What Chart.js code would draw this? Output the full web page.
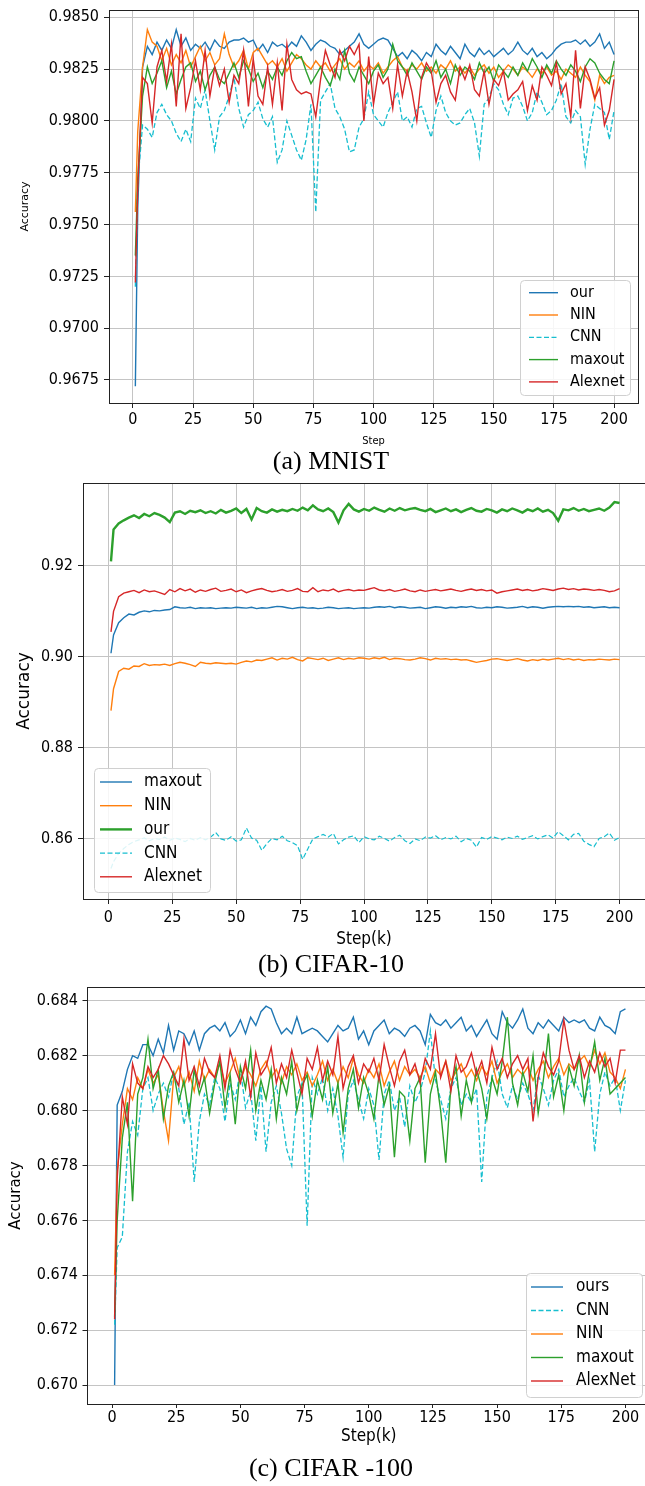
<!DOCTYPE html>
<html>
<head>
<meta charset="utf-8">
<script src="https://cdn.jsdelivr.net/npm/chart.js@4.4.1/dist/chart.umd.min.js"></script>
<style>
  html, body { margin: 0; padding: 0; background: #fff; overflow: hidden; }
  body { position: relative; width: 645px; height: 1486px; }
  .panel { position: absolute; left: 0; }
  .caption { position: absolute; left: 131px; width: 400px; text-align: center;
             font-family: 'Liberation Serif', 'Times New Roman', serif; font-size: 26px; line-height: 26px; color: #000; }
</style>
</head>
<body>
<div class="panel" style="top:0px;width:645px;height:450px"><canvas id="mnist"></canvas></div>
<div class="caption" style="top:448px">(a) MNIST</div>
<div class="panel" style="top:470px;width:646px;height:482px"><canvas id="cifar10"></canvas></div>
<div class="caption" style="top:951px">(b) CIFAR-10</div>
<div class="panel" style="top:975px;width:652px;height:480px"><canvas id="cifar100"></canvas></div>
<div class="caption" style="top:1455px">(c) CIFAR -100</div>
<script>
// steps (k) at which accuracy was logged
const steps = [1];
for (let s = 2; s <= 200; s += 2) steps.push(s);
const xTicks = [0, 25, 50, 75, 100, 125, 150, 175, 200];

// ---- (a) MNIST ----
const mnistYTicks = [0.9675, 0.9700, 0.9725, 0.9750, 0.9775, 0.9800, 0.9825, 0.9850];
const mnistOur = [
  0.9672, 0.9758, 0.9826, 0.9836, 0.9832, 0.9838, 0.9834, 0.9839, 0.9835, 0.9844,
  0.9836, 0.9840, 0.9834, 0.9837, 0.9835, 0.9838, 0.9834, 0.9839, 0.9836, 0.9835,
  0.9838, 0.9839, 0.9839, 0.9840, 0.9838, 0.9839, 0.9834, 0.9837, 0.9833, 0.9838,
  0.9836, 0.9837, 0.9835, 0.9838, 0.9836, 0.9841, 0.9838, 0.9834, 0.9837, 0.9839,
  0.9838, 0.9836, 0.9835, 0.9832, 0.9834, 0.9836, 0.9838, 0.9842, 0.9837, 0.9835,
  0.9837, 0.9839, 0.9840, 0.9839, 0.9835, 0.9831, 0.9833, 0.9830, 0.9834, 0.9832,
  0.9829, 0.9833, 0.9831, 0.9837, 0.9834, 0.9832, 0.9836, 0.9833, 0.9830, 0.9837,
  0.9833, 0.9831, 0.9835, 0.9832, 0.9834, 0.9831, 0.9833, 0.9835, 0.9832, 0.9834,
  0.9838, 0.9834, 0.9832, 0.9835, 0.9831, 0.9833, 0.9830, 0.9832, 0.9835, 0.9837,
  0.9838, 0.9838, 0.9839, 0.9837, 0.9839, 0.9836, 0.9838, 0.9842, 0.9835, 0.9838,
  0.9832];
const mnistNIN = [
  0.9756, 0.9795, 0.9826, 0.9844, 0.9838, 0.9836, 0.9829, 0.9835, 0.9827, 0.9832,
  0.9828, 0.9834, 0.9826, 0.9831, 0.9836, 0.9829, 0.9833, 0.9827, 0.9830, 0.9842,
  0.9832, 0.9826, 0.9829, 0.9834, 0.9825, 0.9833, 0.9835, 0.9831, 0.9827, 0.9829,
  0.9826, 0.9830, 0.9824, 0.9828, 0.9832, 0.9830, 0.9827, 0.9825, 0.9829, 0.9826,
  0.9828, 0.9824, 0.9827, 0.9830, 0.9825, 0.9828, 0.9826, 0.9829, 0.9824, 0.9827,
  0.9825, 0.9828, 0.9823, 0.9826, 0.9829, 0.9831, 0.9826, 0.9824, 0.9827, 0.9825,
  0.9828, 0.9824, 0.9826, 0.9823, 0.9827, 0.9825, 0.9829, 0.9824, 0.9826, 0.9823,
  0.9826, 0.9822, 0.9825, 0.9827, 0.9823, 0.9826, 0.9821, 0.9824, 0.9827, 0.9825,
  0.9822, 0.9826, 0.9824, 0.9821, 0.9825, 0.9823, 0.9826, 0.9822, 0.9824, 0.9820,
  0.9825, 0.9823, 0.9821, 0.9826, 0.9822, 0.9819, 0.9810, 0.9822, 0.9818, 0.9821,
  0.9822];
const mnistCNN = [
  0.9720, 0.9770, 0.9798, 0.9796, 0.9792, 0.9804, 0.9808, 0.9803, 0.9800, 0.9794,
  0.9790, 0.9796, 0.9790, 0.9811, 0.9806, 0.9815, 0.9800, 0.9786, 0.9802, 0.9805,
  0.9812, 0.9821, 0.9806, 0.9797, 0.9803, 0.9805, 0.9809, 0.9801, 0.9797, 0.9802,
  0.9780, 0.9786, 0.9800, 0.9793, 0.9786, 0.9781, 0.9791, 0.9808, 0.9756, 0.9810,
  0.9814, 0.9818, 0.9806, 0.9802, 0.9796, 0.9785, 0.9786, 0.9797, 0.9801, 0.9814,
  0.9803, 0.9800, 0.9797, 0.9804, 0.9809, 0.9814, 0.9800, 0.9802, 0.9797, 0.9806,
  0.9807, 0.9799, 0.9792, 0.9805, 0.9812, 0.9804, 0.9800, 0.9798, 0.9799, 0.9803,
  0.9806, 0.9799, 0.9783, 0.9808, 0.9811, 0.9818, 0.9815, 0.9808, 0.9803, 0.9811,
  0.9812, 0.9807, 0.9800, 0.9804, 0.9814, 0.9809, 0.9803, 0.9805, 0.9810, 0.9818,
  0.9802, 0.9799, 0.9805, 0.9802, 0.9779, 0.9796, 0.9808, 0.9806, 0.9804, 0.9791,
  0.9805];
const mnistMaxout = [
  0.9735, 0.9772, 0.9812, 0.9826, 0.9818, 0.9823, 0.9829, 0.9816, 0.9824, 0.9813,
  0.9820, 0.9826, 0.9828, 0.9819, 0.9824, 0.9815, 0.9822, 0.9826, 0.9820, 0.9818,
  0.9823, 0.9828, 0.9821, 0.9829, 0.9825, 0.9819, 0.9823, 0.9816, 0.9824, 0.9820,
  0.9826, 0.9822, 0.9829, 0.9833, 0.9830, 0.9831, 0.9824, 0.9818, 0.9822, 0.9826,
  0.9821, 0.9817, 0.9825, 0.9820, 0.9834, 0.9823, 0.9819, 0.9826, 0.9822, 0.9818,
  0.9824, 0.9827, 0.9821, 0.9825, 0.9837, 0.9829, 0.9826, 0.9822, 0.9828, 0.9824,
  0.9820, 0.9826, 0.9823, 0.9829, 0.9821, 0.9825, 0.9818, 0.9827, 0.9822, 0.9826,
  0.9824, 0.9820, 0.9828, 0.9823, 0.9826, 0.9819, 0.9827, 0.9824, 0.9821, 0.9826,
  0.9822, 0.9828, 0.9824, 0.9830, 0.9826, 0.9821, 0.9827, 0.9823, 0.9829, 0.9825,
  0.9822, 0.9827, 0.9824, 0.9819, 0.9826, 0.9830, 0.9828, 0.9823, 0.9820, 0.9818,
  0.9829];
const mnistAlexnet = [
  0.9722, 0.9768, 0.9821, 0.9818, 0.9799, 0.9826, 0.9834, 0.9819, 0.9837, 0.9807,
  0.9842, 0.9806, 0.9816, 0.9829, 0.9815, 0.9834, 0.9812, 0.9826, 0.9817, 0.9825,
  0.9809, 0.9822, 0.9818, 0.9834, 0.9807, 0.9830, 0.9812, 0.9808, 0.9826, 0.9808,
  0.9828, 0.9805, 0.9837, 0.9820, 0.9815, 0.9813, 0.9814, 0.9813, 0.9802, 0.9820,
  0.9834, 0.9827, 0.9821, 0.9834, 0.9829, 0.9836, 0.9832, 0.9837, 0.9800, 0.9831,
  0.9808, 0.9823, 0.9818, 0.9821, 0.9806, 0.9827, 0.9812, 0.9824, 0.9814, 0.9800,
  0.9821, 0.9828, 0.9824, 0.9809, 0.9818, 0.9822, 0.9814, 0.9810, 0.9826, 0.9820,
  0.9827, 0.9815, 0.9812, 0.9824, 0.9808, 0.9820, 0.9817, 0.9824, 0.9810, 0.9813,
  0.9815, 0.9819, 0.9805, 0.9817, 0.9810, 0.9826, 0.9822, 0.9817, 0.9828, 0.9813,
  0.9818, 0.9802, 0.9834, 0.9806, 0.9826, 0.9820, 0.9811, 0.9816, 0.9798, 0.9805,
  0.9820];

// ---- (b) CIFAR-10 ----
const c10YTicks = [0.86, 0.88, 0.90, 0.92];
const c10Maxout = [
  0.9008, 0.9048, 0.9075, 0.9086, 0.9094, 0.9092, 0.9098, 0.9101, 0.9099, 0.9102,
  0.9101, 0.9103, 0.9104, 0.9110, 0.9108, 0.9107, 0.9109, 0.9106, 0.9108, 0.9107,
  0.9108, 0.9106, 0.9107, 0.9108, 0.9107, 0.9109, 0.9108, 0.9107, 0.9109, 0.9106,
  0.9108, 0.9107, 0.9109, 0.9111, 0.9110, 0.9108, 0.9106, 0.9108, 0.9109, 0.9107,
  0.9108, 0.9106, 0.9107, 0.9109, 0.9108, 0.9106, 0.9107, 0.9108, 0.9106, 0.9107,
  0.9108, 0.9107, 0.9109, 0.9110, 0.9109, 0.9111, 0.9108, 0.9110, 0.9109, 0.9107,
  0.9108, 0.9109, 0.9106, 0.9108, 0.9110, 0.9109, 0.9107, 0.9109, 0.9108, 0.9110,
  0.9109, 0.9111, 0.9108, 0.9107, 0.9109, 0.9108, 0.9110, 0.9109, 0.9107, 0.9108,
  0.9109, 0.9111, 0.9108, 0.9110, 0.9109, 0.9107, 0.9109, 0.9110, 0.9111, 0.9110,
  0.9111, 0.9110, 0.9111, 0.9109, 0.9110, 0.9108, 0.9109, 0.9110, 0.9108, 0.9109,
  0.9108];
const c10NIN = [
  0.8882, 0.8930, 0.8968, 0.8975, 0.8973, 0.8980, 0.8979, 0.8985, 0.8981, 0.8983,
  0.8982, 0.8984, 0.8981, 0.8985, 0.8988, 0.8986, 0.8983, 0.8979, 0.8988, 0.8986,
  0.8985, 0.8987, 0.8986, 0.8985, 0.8986, 0.8984, 0.8988, 0.8991, 0.8989, 0.8993,
  0.8992, 0.8995, 0.8998, 0.8993, 0.8997, 0.8995, 0.8999, 0.8994, 0.8991, 0.8998,
  0.8996, 0.8994, 0.8997, 0.8992, 0.8995, 0.8998, 0.8994, 0.8997, 0.8995, 0.8998,
  0.8997, 0.8995, 0.8998, 0.8996, 0.8999, 0.8994, 0.8997, 0.8996, 0.8994, 0.8993,
  0.8995, 0.8998, 0.8996, 0.8993, 0.8997, 0.8995, 0.8996, 0.8994, 0.8995, 0.8993,
  0.8994, 0.8991, 0.8988, 0.8990, 0.8992, 0.8995, 0.8996, 0.8994, 0.8992, 0.8994,
  0.8996, 0.8993, 0.8991, 0.8994, 0.8992, 0.8995, 0.8993, 0.8995, 0.8997, 0.8994,
  0.8996, 0.8993, 0.8995, 0.8992, 0.8994, 0.8993, 0.8995, 0.8994, 0.8993, 0.8995,
  0.8994];
const c10Our = [
  0.9210, 0.9280, 0.9293, 0.9300, 0.9306, 0.9311, 0.9305, 0.9314, 0.9309, 0.9316,
  0.9312, 0.9306, 0.9296, 0.9317, 0.9320, 0.9314, 0.9321, 0.9318, 0.9322, 0.9316,
  0.9320, 0.9315, 0.9323, 0.9317, 0.9321, 0.9326, 0.9316, 0.9325, 0.9302, 0.9327,
  0.9320, 0.9317, 0.9324, 0.9319, 0.9323, 0.9320, 0.9325, 0.9321, 0.9328, 0.9322,
  0.9333, 0.9324, 0.9320, 0.9326, 0.9318, 0.9295, 0.9322, 0.9336, 0.9324, 0.9319,
  0.9325, 0.9321, 0.9328, 0.9323, 0.9319, 0.9326, 0.9321, 0.9327, 0.9322, 0.9325,
  0.9327, 0.9323, 0.9320, 0.9325, 0.9318, 0.9322, 0.9326, 0.9320, 0.9324, 0.9318,
  0.9323, 0.9327, 0.9321, 0.9319, 0.9325, 0.9322, 0.9317, 0.9324, 0.9320, 0.9326,
  0.9322, 0.9317, 0.9324, 0.9320, 0.9326, 0.9319, 0.9323, 0.9316, 0.9299, 0.9324,
  0.9322, 0.9327, 0.9321, 0.9325, 0.9320, 0.9323, 0.9326, 0.9321, 0.9328, 0.9340,
  0.9338];
const c10CNN = [
  0.8535, 0.8550, 0.8568, 0.8579, 0.8588, 0.8594, 0.8598, 0.8602, 0.8596, 0.8601,
  0.8599, 0.8604, 0.8597, 0.8602, 0.8599, 0.8594, 0.8601, 0.8597, 0.8603, 0.8598,
  0.8604, 0.8614, 0.8600, 0.8597, 0.8605, 0.8595, 0.8598, 0.8624, 0.8602, 0.8597,
  0.8575, 0.8590, 0.8601, 0.8598, 0.8606, 0.8596, 0.8592, 0.8585, 0.8555, 0.8578,
  0.8600, 0.8605, 0.8610, 0.8604, 0.8612, 0.8589, 0.8598, 0.8604, 0.8607, 0.8592,
  0.8605, 0.8600, 0.8598, 0.8606, 0.8601, 0.8595, 0.8603, 0.8608, 0.8596, 0.8590,
  0.8600, 0.8596, 0.8604, 0.8602, 0.8607, 0.8598, 0.8603, 0.8600, 0.8606, 0.8594,
  0.8601, 0.8597, 0.8582, 0.8603, 0.8599, 0.8605, 0.8602, 0.8598, 0.8604, 0.8601,
  0.8606, 0.8599, 0.8603, 0.8607, 0.8600, 0.8605, 0.8609, 0.8602, 0.8616, 0.8607,
  0.8598, 0.8610, 0.8612, 0.8595, 0.8588, 0.8583, 0.8601, 0.8605, 0.8613, 0.8597,
  0.8603];
const c10Alexnet = [
  0.9055, 0.9100, 0.9132, 0.9140, 0.9143, 0.9146, 0.9141, 0.9147, 0.9143, 0.9145,
  0.9141, 0.9137, 0.9148, 0.9143, 0.9150, 0.9145, 0.9149, 0.9142, 0.9147, 0.9144,
  0.9148, 0.9151, 0.9144, 0.9146, 0.9149, 0.9143, 0.9147, 0.9141, 0.9145, 0.9148,
  0.9150, 0.9146, 0.9143, 0.9145, 0.9148, 0.9144, 0.9146, 0.9150, 0.9144, 0.9143,
  0.9152, 0.9143, 0.9147, 0.9145, 0.9149, 0.9143, 0.9146, 0.9148, 0.9145, 0.9147,
  0.9146, 0.9149, 0.9152, 0.9147, 0.9145, 0.9148, 0.9144, 0.9146, 0.9149, 0.9145,
  0.9143, 0.9147, 0.9144, 0.9146, 0.9148, 0.9145, 0.9147, 0.9149, 0.9146, 0.9144,
  0.9147, 0.9149, 0.9146, 0.9148, 0.9145, 0.9147, 0.9140, 0.9143, 0.9145, 0.9147,
  0.9149, 0.9146, 0.9148, 0.9145, 0.9147, 0.9150, 0.9148, 0.9146, 0.9149, 0.9151,
  0.9148, 0.9150, 0.9147, 0.9149, 0.9148, 0.9146, 0.9148, 0.9146, 0.9143, 0.9145,
  0.9150];

// ---- (c) CIFAR-100 ----
const c100YTicks = [0.670, 0.672, 0.674, 0.676, 0.678, 0.680, 0.682, 0.684];
const c100Ours = [
  0.6700, 0.6802, 0.6807, 0.6815, 0.6820, 0.6819, 0.6824, 0.6824, 0.6820, 0.6826,
  0.6821, 0.6831, 0.6822, 0.6829, 0.6828, 0.6824, 0.6829, 0.6822, 0.6828, 0.6830,
  0.6831, 0.6829, 0.6832, 0.6827, 0.6829, 0.6833, 0.6828, 0.6834, 0.6831, 0.6836,
  0.6838, 0.6837, 0.6832, 0.6828, 0.6830, 0.6828, 0.6834, 0.6828, 0.6829, 0.6830,
  0.6829, 0.6827, 0.6825, 0.6828, 0.6831, 0.6829, 0.6830, 0.6834, 0.6826, 0.6829,
  0.6824, 0.6829, 0.6831, 0.6833, 0.6828, 0.6830, 0.6829, 0.6827, 0.6830, 0.6831,
  0.6829, 0.6824, 0.6835, 0.6832, 0.6831, 0.6833, 0.6830, 0.6832, 0.6834, 0.6829,
  0.6831, 0.6827, 0.6830, 0.6833, 0.6828, 0.6826, 0.6836, 0.6832, 0.6830, 0.6833,
  0.6837, 0.6830, 0.6828, 0.6832, 0.6830, 0.6833, 0.6831, 0.6829, 0.6834, 0.6832,
  0.6833, 0.6832, 0.6833, 0.6830, 0.6829, 0.6834, 0.6831, 0.6830, 0.6828, 0.6836,
  0.6837];
const c100CNN = [
  0.6722, 0.6750, 0.6754, 0.6785, 0.6796, 0.6791, 0.6808, 0.6812, 0.6800, 0.6806,
  0.6810, 0.6805, 0.6814, 0.6808, 0.6795, 0.6803, 0.6774, 0.6796, 0.6806, 0.6802,
  0.6812, 0.6808, 0.6796, 0.6810, 0.6804, 0.6815, 0.6801, 0.6807, 0.6789, 0.6809,
  0.6785, 0.6803, 0.6809, 0.6799, 0.6786, 0.6780, 0.6805, 0.6810, 0.6758, 0.6812,
  0.6806, 0.6812, 0.6800, 0.6808, 0.6798, 0.6783, 0.6806, 0.6811, 0.6804, 0.6797,
  0.6808, 0.6802, 0.6782, 0.6806, 0.6811, 0.6800, 0.6805, 0.6794, 0.6809, 0.6803,
  0.6807, 0.6814, 0.6829, 0.6811, 0.6804, 0.6797, 0.6808, 0.6812, 0.6802, 0.6806,
  0.6803, 0.6808, 0.6774, 0.6805, 0.6812, 0.6818, 0.6806, 0.6801, 0.6809, 0.6804,
  0.6810, 0.6806, 0.6800, 0.6813, 0.6808, 0.6802, 0.6811, 0.6815, 0.6805, 0.6809,
  0.6812, 0.6807, 0.6803, 0.6811, 0.6785, 0.6806, 0.6814, 0.6809, 0.6812, 0.6800,
  0.6811];
const c100NIN = [
  0.6740, 0.6778, 0.6795, 0.6808, 0.6804, 0.6812, 0.6808, 0.6815, 0.6810, 0.6813,
  0.6800, 0.6789, 0.6812, 0.6816, 0.6809, 0.6814, 0.6807, 0.6818, 0.6811, 0.6815,
  0.6812, 0.6817, 0.6810, 0.6814, 0.6819, 0.6811, 0.6816, 0.6813, 0.6809, 0.6815,
  0.6818, 0.6812, 0.6815, 0.6810, 0.6816, 0.6813, 0.6817, 0.6811, 0.6814, 0.6809,
  0.6813, 0.6818, 0.6811, 0.6815, 0.6810, 0.6816, 0.6812, 0.6819, 0.6813, 0.6810,
  0.6815, 0.6812, 0.6817, 0.6809, 0.6814, 0.6818, 0.6811, 0.6816, 0.6813, 0.6815,
  0.6812, 0.6816, 0.6810, 0.6815, 0.6813, 0.6818, 0.6811, 0.6814, 0.6817, 0.6812,
  0.6815, 0.6811, 0.6816, 0.6813, 0.6818, 0.6810, 0.6814, 0.6817, 0.6812, 0.6815,
  0.6813, 0.6816, 0.6811, 0.6815, 0.6818, 0.6812, 0.6816, 0.6819, 0.6813, 0.6817,
  0.6815, 0.6818, 0.6820, 0.6816, 0.6822, 0.6817, 0.6821, 0.6814, 0.6812, 0.6808,
  0.6815];
const c100Maxout = [
  0.6725, 0.6760, 0.6790, 0.6803, 0.6767, 0.6806, 0.6812, 0.6826, 0.6808, 0.6815,
  0.6797, 0.6809, 0.6814, 0.6803, 0.6811, 0.6798, 0.6815, 0.6806, 0.6812, 0.6799,
  0.6810, 0.6818, 0.6801, 0.6813, 0.6795, 0.6816, 0.6808, 0.6822, 0.6800, 0.6811,
  0.6804, 0.6815, 0.6797, 0.6812, 0.6806, 0.6818, 0.6800, 0.6809, 0.6813, 0.6798,
  0.6811, 0.6804, 0.6816, 0.6799, 0.6810, 0.6792, 0.6808, 0.6815, 0.6801, 0.6812,
  0.6806, 0.6797, 0.6813, 0.6802, 0.6809, 0.6783, 0.6807, 0.6805, 0.6789, 0.6808,
  0.6812, 0.6781, 0.6806, 0.6814, 0.6800, 0.6781, 0.6809, 0.6816, 0.6798, 0.6811,
  0.6803, 0.6815, 0.6808, 0.6797, 0.6812, 0.6806, 0.6818, 0.6834, 0.6810, 0.6802,
  0.6814, 0.6807, 0.6820, 0.6799, 0.6811, 0.6828, 0.6805, 0.6813, 0.6800, 0.6816,
  0.6809, 0.6820, 0.6803, 0.6815, 0.6825, 0.6811, 0.6819, 0.6806, 0.6808, 0.6810,
  0.6812];
const c100AlexNet = [
  0.6724, 0.6775, 0.6805, 0.6795, 0.6817, 0.6810, 0.6808, 0.6816, 0.6812, 0.6815,
  0.6820, 0.6817, 0.6813, 0.6809, 0.6826, 0.6811, 0.6816, 0.6809, 0.6819, 0.6814,
  0.6812, 0.6820, 0.6808, 0.6822, 0.6815, 0.6810, 0.6818, 0.6805, 0.6821, 0.6813,
  0.6816, 0.6823, 0.6810, 0.6817, 0.6812, 0.6822, 0.6814, 0.6806, 0.6819, 0.6815,
  0.6823, 0.6811, 0.6818, 0.6813, 0.6827, 0.6808, 0.6816, 0.6820, 0.6810, 0.6817,
  0.6814, 0.6819, 0.6811, 0.6824, 0.6816, 0.6809, 0.6818, 0.6822, 0.6813, 0.6817,
  0.6810, 0.6819, 0.6815, 0.6828, 0.6812, 0.6818, 0.6807, 0.6820, 0.6814, 0.6816,
  0.6821, 0.6813, 0.6818, 0.6810, 0.6823, 0.6815, 0.6819, 0.6812, 0.6817, 0.6820,
  0.6815, 0.6819, 0.6796, 0.6812, 0.6821, 0.6816, 0.6813, 0.6818, 0.6833, 0.6822,
  0.6815, 0.6820, 0.6812, 0.6818, 0.6814, 0.6821, 0.6816, 0.6819, 0.6810, 0.6822,
  0.6822];

const COND = "'DejaVu Sans Condensed', 'DejaVu Sans', sans-serif";
const PLAIN = "'DejaVu Sans', sans-serif";
Chart.defaults.font.family = COND;
Chart.defaults.color = '#000';

const BLUE = '#1f77b4', ORANGE = '#ff7f0e', GREEN = '#2ca02c', RED = '#d62728', CYAN = '#17becf';
const DASH = [5, 2.5];

// box round the plot, like matplotlib spines
const framePlugin = {
  id: 'frame',
  afterDatasetsDraw(chart) {
    const { ctx, chartArea: a } = chart;
    ctx.save();
    ctx.strokeStyle = '#222';
    ctx.lineWidth = 1;
    ctx.strokeRect(Math.round(a.left) + 0.5, Math.round(a.top) + 0.5,
                   Math.round(a.right - a.left), Math.round(a.bottom - a.top));
    ctx.restore();
  }
};

// legend box drawn inside the plot
function boxLegend(L) {
  return {
    id: 'boxLegend',
    afterDraw(chart) {
      const ctx = chart.ctx;
      ctx.save();
      ctx.beginPath();
      ctx.roundRect(L.x + 0.5, L.y + 0.5, L.w, L.h, 4);
      ctx.fillStyle = 'rgba(255,255,255,0.85)';
      ctx.fill();
      ctx.strokeStyle = '#d0d0d0';
      ctx.lineWidth = 1;
      ctx.stroke();
      ctx.font = L.size + 'px ' + COND;
      ctx.textBaseline = 'middle';
      chart.data.datasets.forEach((ds, i) => {
        const y = L.rowY + i * L.gap;
        ctx.beginPath();
        ctx.setLineDash(ds.borderDash || []);
        ctx.strokeStyle = ds.borderColor;
        ctx.lineWidth = ds.borderWidth;
        ctx.moveTo(L.lineX, y);
        ctx.lineTo(L.lineX + L.lineLen, y);
        ctx.stroke();
        ctx.setLineDash([]);
        ctx.fillStyle = '#000';
        ctx.fillText(ds.label, L.textX, y);
      });
      ctx.restore();
    }
  };
}

function makePanel(id, p) {
  const xLh = p.xTitleSize * 1.2;
  const yLh = p.yTitleSize * 1.2;
  const padLeft = p.yTitleX - yLh / 2;
  const padBottom = p.height - (p.xTitleY + xLh / 2);
  const grid = '#c4c4c4';
  return new Chart(document.getElementById(id), {
    type: 'line',
    data: {
      datasets: p.series.map((s, i) => ({
        label: s.label,
        data: steps.map((x, j) => ({ x: x, y: s.values[j] })),
        borderColor: s.color,
        borderWidth: s.width || 1.4,
        borderDash: s.dash || [],
        pointRadius: 0,
        tension: 0,
        fill: false,
        order: p.series.length - i
      }))
    },
    options: {
      responsive: true,
      maintainAspectRatio: false,
      animation: false,
      events: [],
      layout: { padding: { left: padLeft, right: p.width - p.area.right, top: p.area.top, bottom: padBottom } },
      plugins: { legend: { display: false }, tooltip: { enabled: false } },
      scales: {
        x: {
          type: 'linear', min: -9.95, max: 209.95,
          afterBuildTicks: sc => { sc.ticks = xTicks.map(v => ({ value: v })); },
          afterFit: sc => {
            sc.height = p.height - padBottom - p.area.bottom;
            sc.paddingLeft = 0; sc.paddingRight = 0;
          },
          grid: { drawOnChartArea: p.xGrid, color: grid, lineWidth: 1, tickLength: p.xTickLen, tickColor: '#222' },
          border: { display: false },
          ticks: { font: { size: p.tickSize }, padding: p.xTickPad, maxRotation: 0, autoSkip: false, callback: v => v },
          title: { display: true, text: p.xTitle, font: { size: p.xTitleSize }, padding: 0 }
        },
        y: {
          min: p.yMin, max: p.yMax,
          afterBuildTicks: sc => { sc.ticks = p.yTicks.map(v => ({ value: v })); },
          afterFit: sc => {
            sc.width = p.area.left - padLeft;
            sc.paddingTop = 0; sc.paddingBottom = 0;
          },
          grid: { color: grid, lineWidth: 1, tickLength: p.yTickLen, tickColor: '#222' },
          border: { display: false },
          ticks: { font: { size: p.tickSize }, padding: p.yTickPad, autoSkip: false, callback: v => v.toFixed(p.yDigits) },
          title: { display: true, text: 'Accuracy', font: { size: p.yTitleSize, family: PLAIN }, padding: 0 }
        }
      }
    },
    plugins: [framePlugin, boxLegend(p.legend)]
  });
}

makePanel('mnist', {
  width: 645, height: 450,
  area: { left: 109, right: 638, top: 10, bottom: 403 },
  yMin: 0.96639, yMax: 0.98535, yTicks: mnistYTicks, yDigits: 4,
  tickSize: 16, xTickLen: 5, xTickPad: 2, yTickLen: 5, yTickPad: 5, xGrid: true,
  xTitle: 'Step', xTitleSize: 11, xTitleY: 441,
  yTitleSize: 11, yTitleX: 25,
  series: [
    { label: 'our', values: mnistOur, color: BLUE },
    { label: 'NIN', values: mnistNIN, color: ORANGE },
    { label: 'CNN', values: mnistCNN, color: CYAN, dash: DASH, width: 1.3 },
    { label: 'maxout', values: mnistMaxout, color: GREEN },
    { label: 'Alexnet', values: mnistAlexnet, color: RED }
  ],
  legend: { x: 520, y: 280, w: 110, h: 115, rowY: 292.7, gap: 22.3, lineX: 529, lineLen: 29, textX: 570, size: 16 }
});

makePanel('cifar10', {
  width: 646, height: 482,
  area: { left: 83, right: 645, top: 13, bottom: 429 },
  yMin: 0.8468, yMax: 0.9382, yTicks: c10YTicks, yDigits: 2,
  tickSize: 16, xTickLen: 5, xTickPad: 4, yTickLen: 5, yTickPad: 5, xGrid: true,
  xTitle: 'Step(k)', xTitleSize: 17, xTitleY: 470,
  yTitleSize: 17, yTitleX: 25,
  series: [
    { label: 'maxout', values: c10Maxout, color: BLUE },
    { label: 'NIN', values: c10NIN, color: ORANGE },
    { label: 'our', values: c10Our, color: GREEN, width: 2.4 },
    { label: 'CNN', values: c10CNN, color: CYAN, dash: DASH, width: 1.2 },
    { label: 'Alexnet', values: c10Alexnet, color: RED }
  ],
  legend: { x: 94, y: 298, w: 116, h: 124, rowY: 312, gap: 23.7, lineX: 100, lineLen: 32, textX: 144, size: 17 }
});

makePanel('cifar100', {
  width: 652, height: 480,
  area: { left: 86.5, right: 651, top: 12, bottom: 429 },
  yMin: 0.66931, yMax: 0.6845, yTicks: c100YTicks, yDigits: 3,
  tickSize: 16, xTickLen: 4, xTickPad: 0, yTickLen: 4, yTickPad: 4.5, xGrid: false,
  xTitle: 'Step(k)', xTitleSize: 17, xTitleY: 462,
  yTitleSize: 15, yTitleX: 16,
  series: [
    { label: 'ours', values: c100Ours, color: BLUE },
    { label: 'CNN', values: c100CNN, color: CYAN, dash: DASH, width: 1.3 },
    { label: 'NIN', values: c100NIN, color: ORANGE },
    { label: 'maxout', values: c100Maxout, color: GREEN },
    { label: 'AlexNet', values: c100AlexNet, color: RED }
  ],
  legend: { x: 526, y: 298, w: 116, h: 124, rowY: 312, gap: 23.5, lineX: 531, lineLen: 32, textX: 576, size: 17 }
});
</script>
</body>
</html>
